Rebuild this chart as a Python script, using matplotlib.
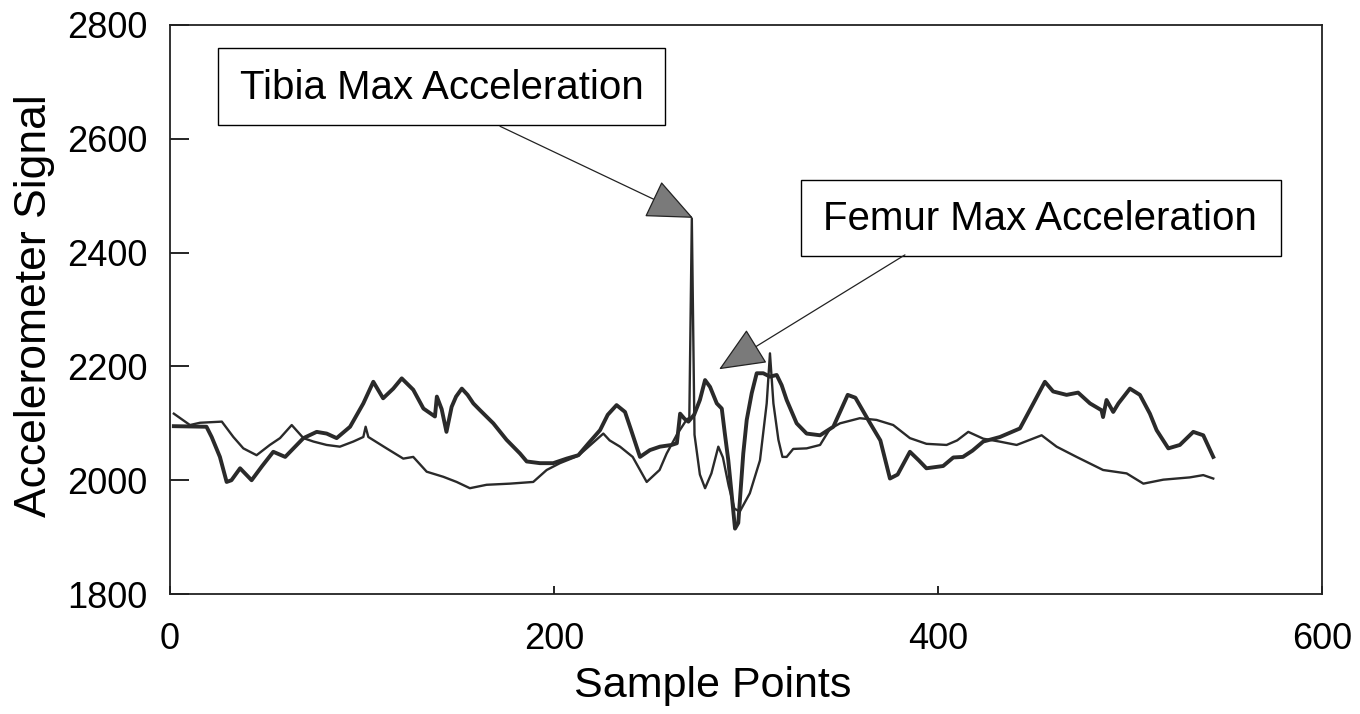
import numpy as np
import matplotlib
matplotlib.use("Agg")
import matplotlib.pyplot as plt
from matplotlib.patches import Rectangle

plt.rcParams['font.family'] = ['Liberation Sans', 'DejaVu Sans']

# thin trace (carries both sharp spikes)
thin_x = [2, 10.4, 15.6, 27, 33, 38.2, 45.1, 52, 57.3, 63.4, 69.5, 74.7, 81.6, 88.5,
          95.5, 100.7, 101.9, 103.3, 112.8, 121.5, 126.7, 133.7, 142.4, 149.3, 156.2,
          164.9, 177, 189.2, 196.2, 203.1, 212.7, 225.7, 229, 234.4, 241, 248.3, 255,
          258.7, 264, 269, 270.5, 271.8, 273.2, 276, 278.7, 282, 285.6, 288, 291, 294,
          296.8, 302, 307.3, 310.8, 312.5, 314.3, 316.9, 319, 321.2, 324.6, 331.6,
          338.6, 343.7, 349, 359.3, 368, 376.7, 385.4, 394, 404.5, 410, 415.8, 423.6,
          432, 441, 454, 461.8, 472.2, 486, 498.3, 507, 517.4, 531.2, 538.2, 543.4]
thin_y = [2117, 2097, 2101, 2103, 2076, 2056, 2044, 2062, 2074, 2097, 2074, 2068, 2062, 2059,
          2068, 2076, 2094, 2076, 2056, 2038, 2041, 2015, 2006, 1997, 1986,
          1992, 1994, 1997, 2018, 2030, 2043, 2082, 2070, 2059, 2041, 1997, 2018,
          2047, 2080, 2106, 2110, 2460, 2080, 2010, 1986, 2012, 2059, 2040, 1990, 1950,
          1945, 1977, 2035, 2135, 2223, 2135, 2071, 2041, 2041, 2055, 2056,
          2062, 2090, 2100, 2109, 2106, 2097, 2074, 2064, 2062, 2070, 2085, 2073,
          2068, 2062, 2079, 2059, 2041, 2018, 2012, 1994, 2001, 2005, 2009, 2003]

# thick trace
thick_x = [2, 19, 21.7, 26, 29.5, 32, 36.5, 42.5, 48, 53.8, 60, 69.5, 76.4, 81.6, 86.8,
           93.8, 100.7, 105.9, 111, 116.3, 120.7, 126.7, 132, 138, 139, 141.5, 144,
           146.7, 149, 152, 155, 158, 161.5, 168.4, 175.3, 182.3, 185.8, 192.7, 199.6,
           206.6, 212.7, 218, 224, 228, 232.6, 237, 240, 244.8, 250, 255.2, 261.3, 264,
           265.7, 268, 270, 273, 276, 278.7, 281.3, 284.8, 287.4, 289, 290.8, 292.5,
           294.3, 296, 298.6, 300.4, 303, 305.6, 309, 312.5, 316, 318.6, 321.2, 326.4,
           331.6, 338.6, 345.5, 349, 353, 357, 364.7, 370, 375, 379, 385.4, 390, 394,
           402.7, 408, 413, 418, 423.6, 432.3, 442.7, 449.7, 455.7, 460, 467, 473,
           479.2, 485.2, 486, 487.8, 491.3, 494, 500, 505.2, 510.4, 513.9, 520, 526,
           533, 538.2, 543.4]
thick_y = [2095, 2094, 2076, 2041, 1997, 2000, 2021, 2000, 2025, 2050, 2041, 2074, 2085, 2082, 2074,
           2094, 2135, 2173, 2144, 2161, 2179, 2159, 2126, 2112, 2147, 2125, 2085,
           2129, 2147, 2161, 2150, 2135, 2123, 2100, 2071, 2047, 2033, 2030, 2030,
           2038, 2044, 2065, 2088, 2115, 2132, 2120, 2090, 2041, 2053, 2059, 2062, 2065,
           2117, 2108, 2103, 2115, 2141, 2176, 2164, 2135, 2126, 2082, 2035, 1977,
           1915, 1925, 2047, 2106, 2153, 2188, 2188, 2182, 2185, 2167, 2141, 2100,
           2082, 2079, 2094, 2120, 2150, 2145, 2100, 2070, 2003, 2010, 2050, 2035, 2021,
           2025, 2040, 2041, 2052, 2068, 2076, 2091, 2135, 2173, 2156, 2150, 2154,
           2135, 2123, 2111, 2141, 2120, 2135, 2161, 2150, 2117, 2088, 2056, 2062,
           2085, 2079, 2041]

x_ticks = [0, 200, 400, 600]
y_ticks = [1800, 2000, 2200, 2400, 2600, 2800]

fig = plt.figure(figsize=(13.6, 7.14), dpi=100)
ax = fig.add_axes([0.125, 0.168, 0.847, 0.797])

line_col = '#2a2a2a'
ax.plot(thick_x, thick_y, color=line_col, lw=2.8, solid_joinstyle='round')
ax.plot(thin_x, thin_y, color=line_col, lw=1.7, solid_joinstyle='round')

ax.set_xlim(0, 600)
ax.set_ylim(1800, 2800)
ax.set_xticks(x_ticks)
ax.set_yticks(y_ticks)
ax.tick_params(direction='in', width=1.2, labelsize=26)
ax.tick_params(axis='y', length=14, pad=16)
ax.tick_params(axis='x', length=6, pad=20)
for s in ax.spines.values():
    s.set_linewidth(1.3)
    s.set_color('#222222')

ax.set_xlabel('Sample Points', fontsize=31)
ax.xaxis.set_label_coords(0.471, -0.162)
ax.xaxis.label.set_verticalalignment('center')
ax.set_ylabel('Accelerometer Signal', fontsize=32)
ax.yaxis.set_label_coords(-0.118, 0.507)
ax.yaxis.label.set_verticalalignment('center')

# callout boxes
ax.add_patch(Rectangle((25, 2624), 233, 136, fill=True, fc='white', ec='black', lw=1.0, zorder=5))
ax.text(141.5, 2690, 'Tibia Max Acceleration', fontsize=29, ha='center', va='center', zorder=6)
ax.add_patch(Rectangle((328.6, 2394), 250, 134, fill=True, fc='white', ec='black', lw=1.0, zorder=5))
ax.text(453, 2459, 'Femur Max Acceleration', fontsize=29, ha='center', va='center', zorder=6)

arrow = dict(arrowstyle='-|>,head_length=3.0,head_width=1.3', fc='#7a7a7a', ec='#222222',
             lw=0.9, shrinkA=0, shrinkB=0)
ax.annotate('', xy=(272.4, 2461), xytext=(171.9, 2622), arrowprops=arrow, zorder=7)
ax.annotate('', xy=(286, 2195), xytext=(382.8, 2396), arrowprops=arrow, zorder=7)

fig.savefig('out.png', dpi=100)
